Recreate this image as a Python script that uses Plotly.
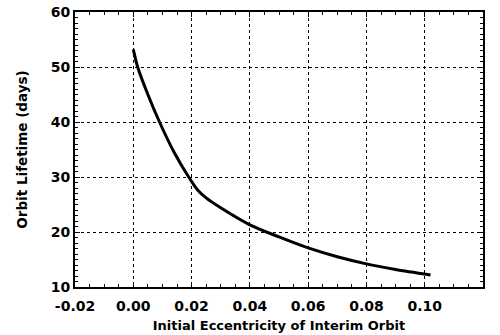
import plotly.graph_objects as go

ecc = [0.0, 0.0015, 0.005, 0.009, 0.014, 0.019, 0.022, 0.025, 0.03, 0.04, 0.05, 0.06, 0.07, 0.08, 0.09, 0.102]
lifetime = [53.2, 50.0, 45.0, 40.0, 34.5, 30.0, 27.7, 26.2, 24.4, 21.3, 19.1, 17.1, 15.5, 14.2, 13.2, 12.2]

x_ticks = [-0.02, 0.0, 0.02, 0.04, 0.06, 0.08, 0.10, 0.12]
x_labels = ["-0.02", "0.00", "0.02", "0.04", "0.06", "0.08", "0.10", "0.12"]
y_ticks = [10, 20, 30, 40, 50, 60]

font_family = "DejaVu Sans, Liberation Sans, Arial, sans-serif"

fig = go.Figure()
fig.add_trace(go.Scatter(x=ecc, y=lifetime, mode="lines",
                         line=dict(color="black", width=3, shape="spline", smoothing=0.8),
                         showlegend=False))

axis_common = dict(
    showline=True, linecolor="black", linewidth=2, mirror="allticks",
    ticks="inside", ticklen=5, tickcolor="black", tickwidth=1,
    showgrid=True, gridcolor="black", gridwidth=1, griddash="dot",
    zeroline=False, automargin=False,
    tickfont=dict(family=font_family, size=14, color="black", weight="bold"),
)

fig.update_xaxes(range=[-0.02, 0.12], tickvals=x_ticks, ticktext=x_labels,
                 ticklabelstandoff=5,
                 minor=dict(dtick=0.005, tick0=0, ticks="inside", ticklen=3,
                            tickcolor="black", showgrid=False),
                 title=dict(text="Initial Eccentricity of Interim Orbit",
                            font=dict(family=font_family, size=13, color="black", weight="bold"),
                            standoff=8),
                 **axis_common)
fig.update_yaxes(range=[10, 60], tickvals=y_ticks,
                 minor=dict(dtick=1, tick0=0, ticks="inside", ticklen=3,
                            tickcolor="black", showgrid=False),
                 title=dict(text="Orbit Lifetime (days)",
                            font=dict(family=font_family, size=13.5, color="black", weight="bold"),
                            standoff=20),
                 **axis_common)

fig.update_layout(
    width=500, height=335,
    margin=dict(l=75, r=17, t=12, b=48),
    plot_bgcolor="white", paper_bgcolor="white",
)

fig.write_html("out.html")
